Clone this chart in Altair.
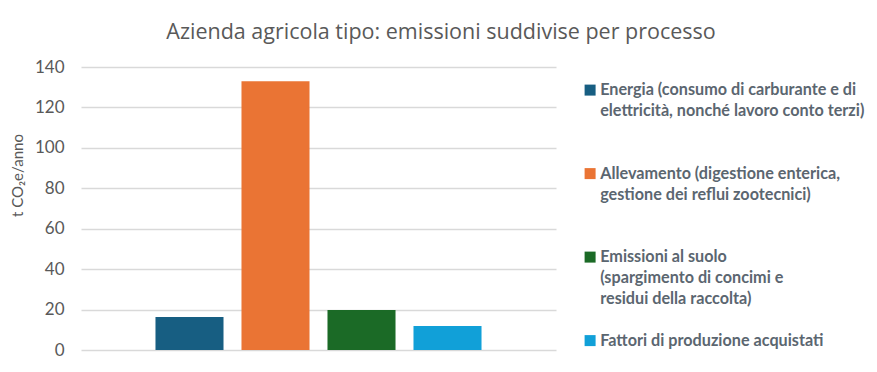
import altair as alt
import pandas as pd

title_text = "Azienda agricola tipo: emissioni suddivise per processo"
y_title = "t CO₂e/anno"

processes = [
    "Energia (consumo di carburante e di\nelettricità, nonché lavoro conto terzi)",
    "Allevamento (digestione enterica,\ngestione dei reflui zootecnici)",
    "Emissioni al suolo\n(spargimento di concimi e\nresidui della raccolta)",
    "Fattori di produzione acquistati",
]
emissions = [16.3, 133.0, 19.8, 11.9]
colors = ["#175e82", "#ea7434", "#1b6a26", "#11a0d8"]
y_ticks = [0, 20, 40, 60, 80, 100, 120, 140]

df = pd.DataFrame({"processo": processes, "emissioni": emissions})

text_gray = "#595959"

chart = (
    alt.Chart(df)
    .mark_bar()
    .encode(
        x=alt.X(
            "processo:N",
            sort=processes,
            scale=alt.Scale(paddingInner=0.209, paddingOuter=0.866),
            axis=None,
        ),
        y=alt.Y(
            "emissioni:Q",
            scale=alt.Scale(domain=[0, 140], nice=False),
            axis=alt.Axis(
                values=y_ticks,
                title=y_title,
                domain=False,
                ticks=False,
                grid=True,
                gridColor="#d9d9d9",
                gridWidth=1.5,
                labelFont="Lato",
                labelFontSize=17,
                labelColor=text_gray,
                labelPadding=17,
                titleFont="Lato",
                titleFontSize=15,
                titleFontWeight="normal",
                titleColor=text_gray,
                titlePadding=9,
                titleY=108,
            ),
        ),
        color=alt.Color(
            "processo:N",
            sort=processes,
            scale=alt.Scale(domain=processes, range=colors),
            legend=alt.Legend(
                title=None,
                orient="none",
                legendX=501,
                legendY=15,
                padding=0,
                symbolType="square",
                symbolSize=121,
                symbolStrokeWidth=0,
                symbolOpacity=1,
                labelFont="Lato",
                labelFontSize=16.2,
                labelFontWeight="bold",
                labelColor="#5b6670",
                labelLimit=0,
                labelOffset=2,
                labelBaseline="middle",
                labelExpr="split(datum.label, '\\n')",
                gridAlign="all",
                rowPadding=24.5,
            ),
        ),
    )
    .properties(
        width=475,
        height=283,
        autosize=alt.AutoSizeParams(type="none"),
        padding={"left": 73, "top": 59, "right": 313, "bottom": 14},
        title=alt.TitleParams(
            title_text,
            font="Open Sans",
            fontSize=21.5,
            fontWeight="normal",
            color=text_gray,
            anchor="middle",
            dx=122.5,
            offset=15,
        ),
    )
    .configure(
        background="white",
        view=alt.ViewConfig(stroke=None),
        style={"guide-label": {"lineHeight": 21}},
    )
)

chart.save("out.html", embed_options={"renderer": "svg", "actions": False})
